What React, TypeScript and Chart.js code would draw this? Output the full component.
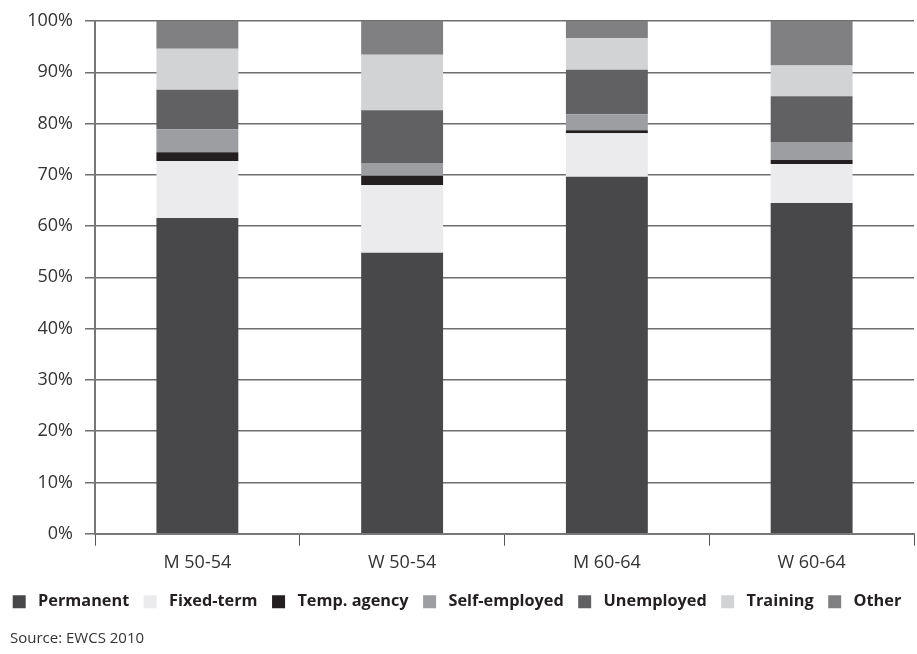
import React, { useEffect, useRef } from "react";
import { Chart, registerables } from "chart.js";

Chart.register(...registerables);

const categories = ["M 50-54", "W 50-54", "M 60-64", "W 60-64"];
const permanent = [61.6, 54.8, 69.6, 64.5];
const fixedTerm = [11.1, 13.2, 8.5, 7.6];
const tempAgency = [1.7, 1.8, 0.6, 0.8];
const selfEmployed = [4.5, 2.5, 3.1, 3.5];
const unemployed = [7.7, 10.3, 8.7, 8.9];
const training = [8.0, 10.8, 6.2, 6.0];
const other = [5.4, 6.6, 3.3, 8.7];
const yTicks = [0, 10, 20, 30, 40, 50, 60, 70, 80, 90, 100];
const sourceText = "Source: EWCS 2010";

const FONT = "'Open Sans', 'Noto Sans', sans-serif";

const sourcePlugin = {
  id: "sourceNote",
  afterDraw(chart: any) {
    const ctx = chart.ctx;
    ctx.save();
    ctx.font = `400 15px ${FONT}`;
    ctx.fillStyle = "#333333";
    ctx.textAlign = "left";
    ctx.textBaseline = "middle";
    ctx.fillText(sourceText, 10, 639);
    ctx.restore();
  },
};

export default function App() {
  const ref = useRef<HTMLCanvasElement | null>(null);
  useEffect(() => {
    if (!ref.current) return;
    const series: [string, number[], string][] = [
      ["Permanent", permanent, "#48484a"],
      ["Fixed-term", fixedTerm, "#ebebed"],
      ["Temp. agency", tempAgency, "#231f20"],
      ["Self-employed", selfEmployed, "#9d9ea1"],
      ["Unemployed", unemployed, "#616163"],
      ["Training", training, "#d2d3d5"],
      ["Other", other, "#808083"],
    ];
    const defaultGen = (Chart as any).defaults.plugins.legend.labels.generateLabels;
    const chart = new Chart(ref.current, {
      type: "bar",
      data: {
        labels: categories,
        datasets: series.map(([label, data, color]) => ({
          label,
          data,
          backgroundColor: color,
          borderWidth: 0,
          barPercentage: 0.8,
          categoryPercentage: 0.5,
        })),
      },
      plugins: [sourcePlugin],
      options: {
        animation: false,
        responsive: false,
        layout: { padding: { top: -4, right: 3, left: 0, bottom: 34 } },
        plugins: {
          tooltip: { enabled: false },
          legend: {
            position: "bottom",
            labels: {
              boxWidth: 13,
              boxHeight: 13,
              padding: 6,
              color: "#231f20",
              font: { family: FONT, size: 16.3, weight: "bold" },
              generateLabels: (c: any) =>
                defaultGen(c).map((item: any, i: number, arr: any[]) => ({
                  ...item,
                  text: " " + item.text + (i < arr.length - 1 ? "  " : ""),
                })),
            },
          },
        },
        scales: {
          x: {
            stacked: true,
            afterFit: (scale: any) => {
              scale.height = 54;
            },
            grid: {
              offset: true,
              drawOnChartArea: false,
              drawTicks: true,
              tickLength: 12,
              color: "#555555",
            },
            border: { display: true, color: "#777777", width: 2 },
            ticks: {
              color: "#333333",
              font: { family: FONT, size: 18 },
              padding: 6,
            },
          },
          y: {
            stacked: true,
            min: 0,
            max: 100,
            afterBuildTicks: (scale: any) => {
              scale.ticks = yTicks.map((v) => ({ value: v }));
            },
            afterFit: (scale: any) => {
              scale.width = 95;
            },
            grid: {
              color: "#6e6e6e",
              lineWidth: 1.5,
              tickLength: 10,
            },
            border: { display: true, color: "#777777", width: 2 },
            ticks: {
              color: "#333333",
              font: { family: FONT, size: 18, lineHeight: 1 },
              padding: 12,
              callback: (v: any) => v + "%",
            },
          },
        },
      },
    });
    return () => chart.destroy();
  }, []);
  return (
    <div style={{ position: "absolute", left: 0, top: 0, width: 917, height: 654, background: "#fff" }}>
      <canvas ref={ref} width={917} height={654} style={{ width: 917, height: 654 }} />
    </div>
  );
}
